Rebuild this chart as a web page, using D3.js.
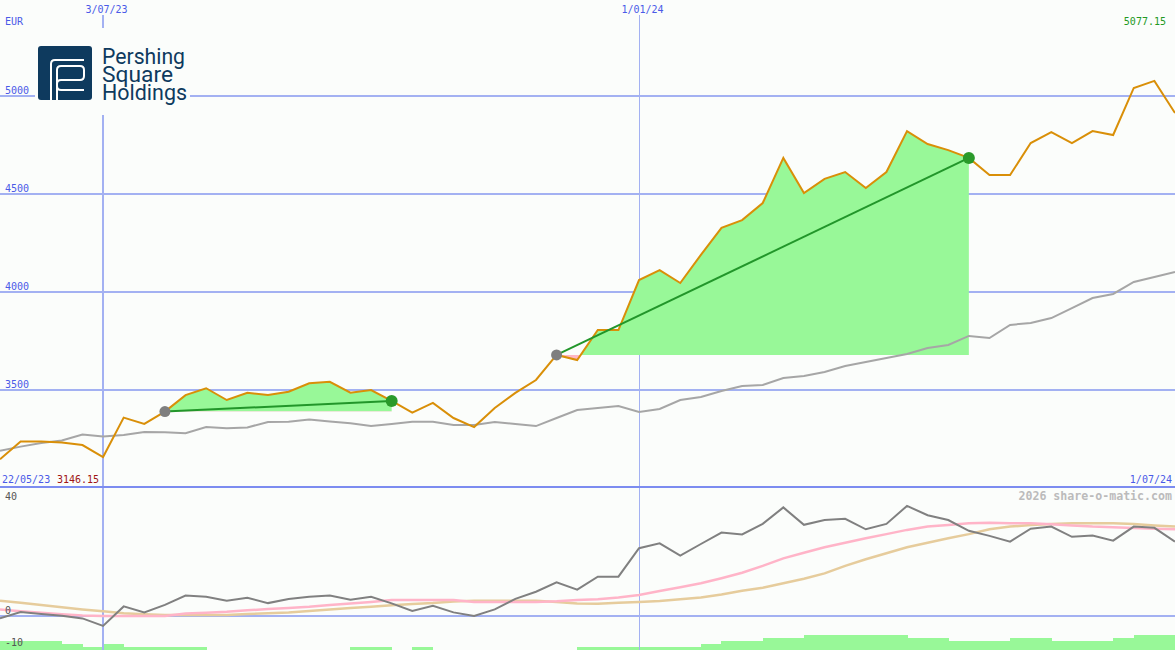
<!DOCTYPE html>
<html><head><meta charset="utf-8">
<script src="https://cdn.jsdelivr.net/npm/d3@7"></script>
<style>
html,body{margin:0;padding:0;background:#fbfdfb;overflow:hidden}
svg{display:block}
text{font-family:"DejaVu Sans Mono",monospace;font-size:10px}
</style></head><body>
<svg id="c" width="1175" height="650"></svg>
<script>
// ---- data ----
const dates = ["2023-05-29","2023-06-05","2023-06-12","2023-06-19","2023-06-26","2023-07-03","2023-07-10","2023-07-17","2023-07-24","2023-07-31",
"2023-08-07","2023-08-14","2023-08-21","2023-08-28","2023-09-04","2023-09-11","2023-09-18","2023-09-25","2023-10-02","2023-10-09",
"2023-10-16","2023-10-23","2023-10-30","2023-11-06","2023-11-13","2023-11-20","2023-11-27","2023-12-04","2023-12-11","2023-12-18",
"2023-12-25","2024-01-01","2024-01-08","2024-01-15","2024-01-22","2024-01-29","2024-02-05","2024-02-12","2024-02-19","2024-02-26",
"2024-03-04","2024-03-11","2024-03-18","2024-03-25","2024-04-01","2024-04-08","2024-04-15","2024-04-22","2024-04-29","2024-05-06",
"2024-05-13","2024-05-20","2024-05-27","2024-06-03","2024-06-10","2024-06-17","2024-06-24","2024-07-01"];
const price = [3146.15,3237,3237,3232,3219,3158,3359,3327,3390,3474,
3509,3449,3486,3474,3491,3534,3542,3486,3500,3444,
3385,3434,3357,3311,3408,3485,3551,3679,3653,3806,
3806,4061,4112,4046,4189,4327,4367,4454,4684,4505,
4577,4612,4531,4612,4821,4755,4724,4684,4597,4597,
4760,4816,4760,4821,4801,5041,5077.15,4913];
const priceAvg = [3190,3211,3230,3242,3273,3263,3270,3286,3284,3279,
3311,3305,3309,3337,3338,3349,3339,3330,3316,3327,
3338,3338,3321,3321,3337,3327,3316,3357,3398,3408,
3418,3388,3403,3449,3464,3495,3520,3526,3561,3571,
3592,3622,3643,3663,3684,3714,3730,3776,3765,3832,
3842,3867,3918,3969,3990,4051,4077,4102];
const momentum = [-0.8,1.3,0.7,0.1,-0.8,-3.3,3.2,1.2,3.7,6.8,
6.4,5.1,6.1,4.3,5.7,6.4,6.8,5.4,6.4,4.2,
1.7,3.4,1.2,0,2.2,5.7,8.1,11.2,8.8,13.1,
13.1,22.6,24.2,20.1,24,27.8,27.2,30.7,36.2,30.4,
32,32.4,28.9,30.7,36.7,33.6,32,28.4,26.7,24.8,
29.1,29.8,26.4,26.8,25.1,29.8,29.4,24.8];
const momentumFast = [2.2,1.6,1.1,0.6,0.2,0,0,0,0,0.8,
1.1,1.4,1.9,2.3,2.7,3.1,3.7,4.2,4.7,5.3,
5.3,5.3,5.3,4.7,4.7,4.7,4.7,4.9,5.3,5.6,
6.2,7,8.3,9.6,10.9,12.6,14.4,16.7,19.2,21.1,
22.9,24.4,25.9,27.3,28.7,29.8,30.3,30.9,31.1,30.9,
30.9,30.6,30.2,29.8,29.6,29.3,29.1,28.9];
const momentumSlow = [5.1,4.4,3.7,2.9,2.2,1.6,0.9,0.6,0.3,0.3,
0.3,0.3,0.7,0.9,1.2,1.7,2.2,2.7,3.1,3.6,
4,4.3,4.8,5.1,5.1,5.1,5.1,4.7,4.2,4.1,
4.4,4.7,5,5.6,6.2,7.2,8.4,9.4,10.9,12.4,
14.2,16.7,18.9,20.9,22.9,24.4,25.9,27.3,28.9,29.8,
30.3,30.7,30.9,30.9,30.9,30.7,30.2,29.8];
const signalBars = [3,3,3,2,1,2,1,1,1,1,
0,0,0,0,0,0,0,1,1,0,
1,0,0,0,0,0,0,0,1,1,
1,1,1,1,2,3,3,4,4,5,
5,5,5,5,4,4,3,3,3,4,
4,3,3,3,4,5,5];
const trades = [{buy:"2023-07-24", sell:"2023-10-09"},{buy:"2023-12-04", sell:"2024-04-22"}];
const priceTicks = [3500,4000,4500,5000];
const dateTicks = ["2023-07-03","2024-01-01"];
const dateTickLabels = ["3/07/23","1/01/24"];
const momTicks = [40,0,-10];
const currency = "EUR";
const maxLabel = "5077.15";
const startLabel = "22/05/23", minLabel = "3146.15", endLabel = "1/07/24";
const credit = "2026 share-o-matic.com";
const logoLines = ["Pershing","Square","Holdings"];

// ---- drawing ----
const W = 1175, H = 650, SEP = 487;
const parse = d3.timeParse("%Y-%m-%d");
const D = dates.map(parse);
const svg = d3.select("#c");
const BG = "#fbfdfb";
svg.append("rect").attr("width",W).attr("height",H).attr("fill",BG);

const x = d3.scaleTime().domain([D[0], D[D.length-1]]).range([0, W]);
const yT = d3.scaleLinear().domain([3500,5000]).range([390,96]);
const yB = d3.scaleLinear().domain([-10,40]).range([646,496]);
const yBar = d3.scaleLinear().domain([0,5]).range([650,635]);

const defs = svg.append("defs");
defs.append("clipPath").attr("id","top").append("rect").attr("x",0).attr("y",0).attr("width",W).attr("height",SEP);
defs.append("clipPath").attr("id","bot").append("rect").attr("x",0).attr("y",SEP).attr("width",W).attr("height",H-SEP);

const GRID = "#a3b1f2", BLUE = "#4a5ae8";

// bottom-panel bars
const gBars = svg.append("g").attr("clip-path","url(#bot)");
gBars.selectAll("rect").data(signalBars).join("rect")
  .attr("x",(d,i)=>x(D[i])).attr("width",(d,i)=>x(D[i+1])-x(D[i])+0.5)
  .attr("y",d=>yBar(d)).attr("height",d=>yBar(0)-yBar(d))
  .attr("fill","#98f898").attr("shape-rendering","crispEdges");

// horizontal price grid via axis
const gGrid = svg.append("g").call(d3.axisRight(yT).tickValues(priceTicks).tickSize(W).tickFormat(d3.format("d")).offset(0));
gGrid.select(".domain").remove();
gGrid.selectAll(".tick line").attr("stroke",GRID).attr("stroke-width",2).attr("shape-rendering","crispEdges");
gGrid.selectAll(".tick text").attr("x",5).attr("y",-2.5).attr("dy",null).attr("text-anchor","start")
  .attr("fill",BLUE).style("font-family","DejaVu Sans Mono").style("font-size","10px");

// zero line bottom panel
const gZero = svg.append("g").call(d3.axisRight(yB).tickValues([0]).tickSize(W).tickFormat("").offset(0));
gZero.select(".domain").remove();
gZero.selectAll(".tick line").attr("stroke",GRID).attr("stroke-width",2).attr("shape-rendering","crispEdges");

// vertical date lines via axis
const gDates = svg.append("g").attr("transform","translate(0,15)")
  .call(d3.axisBottom(x).tickValues(dateTicks.map(parse)).tickSize(H-15).tickFormat("").offset(0));
gDates.select(".domain").remove();
gDates.selectAll(".tick line").attr("stroke",GRID).attr("stroke-width",(d,i)=>i===0?2:1).attr("shape-rendering","crispEdges");
svg.selectAll(".dlab").data(dateTicks).join("text").attr("class","dlab")
  .attr("x",d=>x(parse(d))+3.5).attr("y",12.5).attr("text-anchor","middle").attr("fill",BLUE)
  .text((d,i)=>dateTickLabels[i]);

// separator
svg.append("line").attr("x1",0).attr("x2",W).attr("y1",SEP).attr("y2",SEP)
  .attr("stroke","#7c8cf0").attr("stroke-width",2).attr("shape-rendering","crispEdges");

// trade fills
const gTop = svg.append("g").attr("clip-path","url(#top)");
trades.forEach((t,k)=>{
  const bi = dates.indexOf(t.buy), si = dates.indexOf(t.sell);
  const base = price[bi];
  const pts = d3.range(bi, si+1).map(i=>({d:D[i], v:price[i]}));
  const area = d3.area().x(p=>x(p.d)).y0(yT(base)).y1(p=>yT(p.v));
  defs.append("clipPath").attr("id","up"+k).append("rect").attr("x",0).attr("y",0).attr("width",W).attr("height",yT(base));
  defs.append("clipPath").attr("id","dn"+k).append("rect").attr("x",0).attr("y",yT(base)).attr("width",W).attr("height",SEP-yT(base));
  gTop.append("path").attr("d",area(pts)).attr("fill","#98f898").attr("clip-path","url(#up"+k+")");
  gTop.append("path").attr("d",area(pts)).attr("fill","#ffb6c4").attr("clip-path","url(#dn"+k+")");
});

// price moving average & price line
const lineT = arr => d3.line().x((d,i)=>x(D[i])).y(d=>yT(d))(arr);
gTop.append("path").attr("d",lineT(priceAvg)).attr("fill","none").attr("stroke","#a6a6a6").attr("stroke-width",2);
gTop.append("path").attr("d",lineT(price)).attr("fill","none").attr("stroke","#d98f08").attr("stroke-width",2);

// trade lines & markers
trades.forEach(t=>{
  const bi = dates.indexOf(t.buy), si = dates.indexOf(t.sell);
  gTop.append("line").attr("x1",x(D[bi])).attr("y1",yT(price[bi])).attr("x2",x(D[si])).attr("y2",yT(price[si]))
    .attr("stroke","#22962a").attr("stroke-width",2);
  gTop.append("circle").attr("cx",x(D[bi])).attr("cy",yT(price[bi])).attr("r",5.5).attr("fill","#7f7f7f");
  gTop.append("circle").attr("cx",x(D[si])).attr("cy",yT(price[si])).attr("r",6).attr("fill","#2a9a2a");
});

// bottom panel lines
const gBot = svg.append("g").attr("clip-path","url(#bot)");
const lineB = arr => d3.line().x((d,i)=>x(D[i])).y(d=>yB(d))(arr);
gBot.append("path").attr("d",lineB(momentumSlow)).attr("fill","none").attr("stroke","#e6cc9c").attr("stroke-width",2.5);
gBot.append("path").attr("d",lineB(momentumFast)).attr("fill","none").attr("stroke","#ffb4c8").attr("stroke-width",2.5);
gBot.append("path").attr("d",lineB(momentum)).attr("fill","none").attr("stroke","#808080").attr("stroke-width",2);

// bottom axis labels
svg.selectAll(".mlab").data(momTicks).join("text").attr("class","mlab")
  .attr("x",5).attr("y",d=>yB(d)+ (d===40?3.5:(d===0?-2.5:0))).attr("fill","#555").text(d=>d);

// texts
svg.append("text").attr("x",5).attr("y",25).attr("fill",BLUE).text(currency);
svg.append("text").attr("x",1166).attr("y",25).attr("text-anchor","end").attr("fill","#229922").text(maxLabel);
svg.append("text").attr("x",2).attr("y",482.5).attr("fill",BLUE).text(startLabel);
svg.append("text").attr("x",57).attr("y",482.5).attr("fill","#a01515").text(minLabel);
svg.append("text").attr("x",1172).attr("y",483).attr("text-anchor","end").attr("fill",BLUE).text(endLabel);
svg.append("text").attr("x",1172).attr("y",500).attr("text-anchor","end").attr("fill","#bbbbbb")
  .style("font-size","11.6px").style("font-weight","bold").text(credit);

// logo
const gL = svg.append("g");
gL.append("rect").attr("x",35).attr("y",28).attr("width",155).attr("height",87).attr("fill",BG);
gL.append("rect").attr("x",38).attr("y",46).attr("width",54).attr("height",54).attr("rx",3).attr("fill","#0e3a5e");
const ws = {fill:"none",stroke:"#fff","stroke-width":2};
[
 "M51 100 V64 Q51 60 55 60 H84",
 "M57 100 V70 Q57 66 61 66 H80 Q84 66 84 70 V76 Q84 80 80 80 H61 Q57 80 57 84 V86 Q57 90 61 90 H84"
].forEach(p=>{ const e=gL.append("path").attr("d",p); Object.entries(ws).forEach(([k,v])=>e.attr(k,v)); });
const baselines = [63.5, 81.5, 99.5], widths = [83, 71, 85];
const logoText = gL.append("text").attr("fill","#0e3a5e")
  .style("font-family","Roboto").style("font-size","22px").style("font-weight","400");
logoLines.forEach((s,i)=>{
  logoText.append("tspan").attr("x",102).attr("y",baselines[i])
    .attr("textLength",widths[i]).attr("lengthAdjust","spacingAndGlyphs").text(s);
});
</script>
</body></html>
